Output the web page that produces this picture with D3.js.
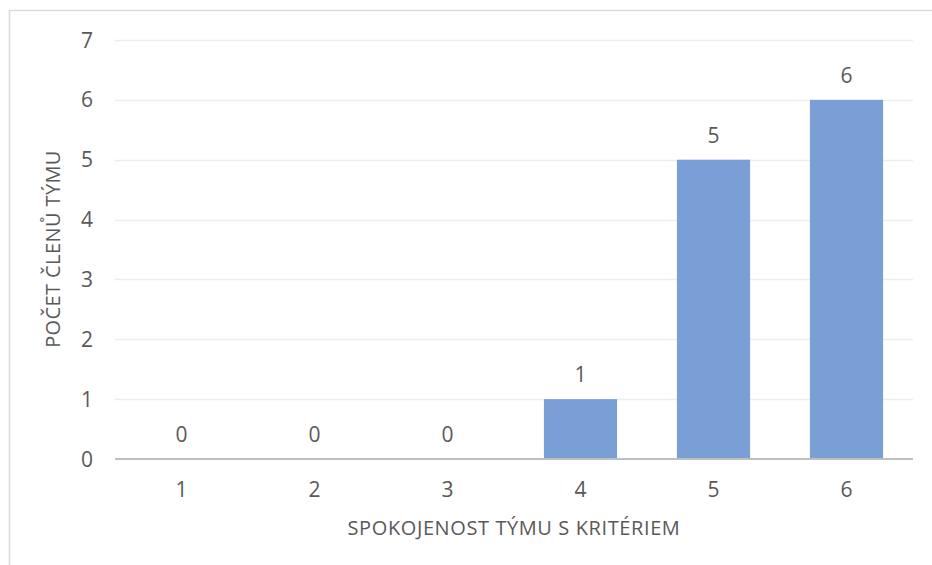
<!DOCTYPE html>
<html>
<head>
<meta charset="utf-8">
<script src="https://cdn.jsdelivr.net/npm/d3@7"></script>
<style>
  html, body { margin: 0; padding: 0; background: #fff; }
  svg { display: block; }
  text { font-family: "Open Sans", "Noto Sans", sans-serif; fill: #595959; }
</style>
</head>
<body>
<svg id="chart"></svg>
<script>
// data
const categories = ['1', '2', '3', '4', '5', '6'];
const counts = [0, 0, 0, 1, 5, 6];
const yTicks = [0, 1, 2, 3, 4, 5, 6, 7];
const xTitle = 'SPOKOJENOST TÝMU S KRITÉRIEM';
const yTitle = 'POČET ČLENŮ TÝMU';

const config = {
  width: 932,
  height: 565,
  margin: { top: 40, right: 19, bottom: 106, left: 115 },
  barColor: '#7A9FD6',
  gridColor: '#EDEDED',
  axisColor: '#BFBFBF',
  tickFont: '21px',
  titleFont: '20px'
};

const innerW = config.width - config.margin.left - config.margin.right;
const innerH = config.height - config.margin.top - config.margin.bottom;

const svg = d3.select('#chart')
  .attr('width', config.width)
  .attr('height', config.height);

// outer frame of the chart
svg.append('rect')
  .attr('x', 9.5).attr('y', 10.5)
  .attr('width', config.width + 10).attr('height', config.height + 10)
  .attr('fill', 'none')
  .attr('stroke', '#D9D9D9')
  .attr('stroke-width', 1.5);

const g = svg.append('g')
  .attr('transform', `translate(${config.margin.left},${config.margin.top})`);

const x = d3.scaleBand().domain(categories).range([0, innerW]).paddingInner(0.45).paddingOuter(0.225);
const xc = d3.scaleBand().domain(categories).range([0, innerW]);
const y = d3.scaleLinear().domain([0, 7]).range([innerH, 0]);

// gridlines
g.selectAll('.grid')
  .data(yTicks.filter(d => d > 0))
  .join('line')
    .attr('class', 'grid')
    .attr('x1', 0).attr('x2', innerW)
    .attr('y1', d => Math.round(y(d)) + 0.5).attr('y2', d => Math.round(y(d)) + 0.5)
    .attr('stroke', config.gridColor)
    .attr('stroke-width', 1.3);

// y tick labels
g.selectAll('.ytick')
  .data(yTicks)
  .join('text')
    .attr('class', 'ytick')
    .attr('x', -22)
    .attr('y', d => y(d))
    .attr('dy', '0.36em')
    .attr('text-anchor', 'end')
    .style('font-size', config.tickFont)
    .text(d => d);

// bars
g.selectAll('.bar')
  .data(counts)
  .join('rect')
    .attr('class', 'bar')
    .attr('x', (d, i) => x(categories[i]))
    .attr('width', x.bandwidth())
    .attr('y', d => y(d))
    .attr('height', d => innerH - y(d))
    .attr('fill', config.barColor);

// value labels
g.selectAll('.val')
  .data(counts)
  .join('text')
    .attr('class', 'val')
    .attr('x', (d, i) => xc(categories[i]) + xc.bandwidth() / 2)
    .attr('y', d => y(d) - 17)
    .attr('text-anchor', 'middle')
    .style('font-size', config.tickFont)
    .text(d => d);

// x axis line
g.append('line')
  .attr('x1', 0).attr('x2', innerW)
  .attr('y1', innerH).attr('y2', innerH)
  .attr('stroke', config.axisColor)
  .attr('stroke-width', 2);

// x tick labels
g.selectAll('.xtick')
  .data(categories)
  .join('text')
    .attr('class', 'xtick')
    .attr('x', d => xc(d) + xc.bandwidth() / 2)
    .attr('y', innerH + 38)
    .attr('text-anchor', 'middle')
    .style('font-size', config.tickFont)
    .text(d => d);

// axis titles
svg.append('text')
  .attr('x', 514)
  .attr('y', 535)
  .attr('text-anchor', 'middle')
  .style('font-size', config.titleFont)
  .style('letter-spacing', '0.6px')
  .text(xTitle);

svg.append('text')
  .attr('transform', 'translate(60,249) rotate(-90)')
  .attr('text-anchor', 'middle')
  .style('font-size', config.titleFont)
  .style('letter-spacing', '0.4px')
  .text(yTitle);
</script>
</body>
</html>
